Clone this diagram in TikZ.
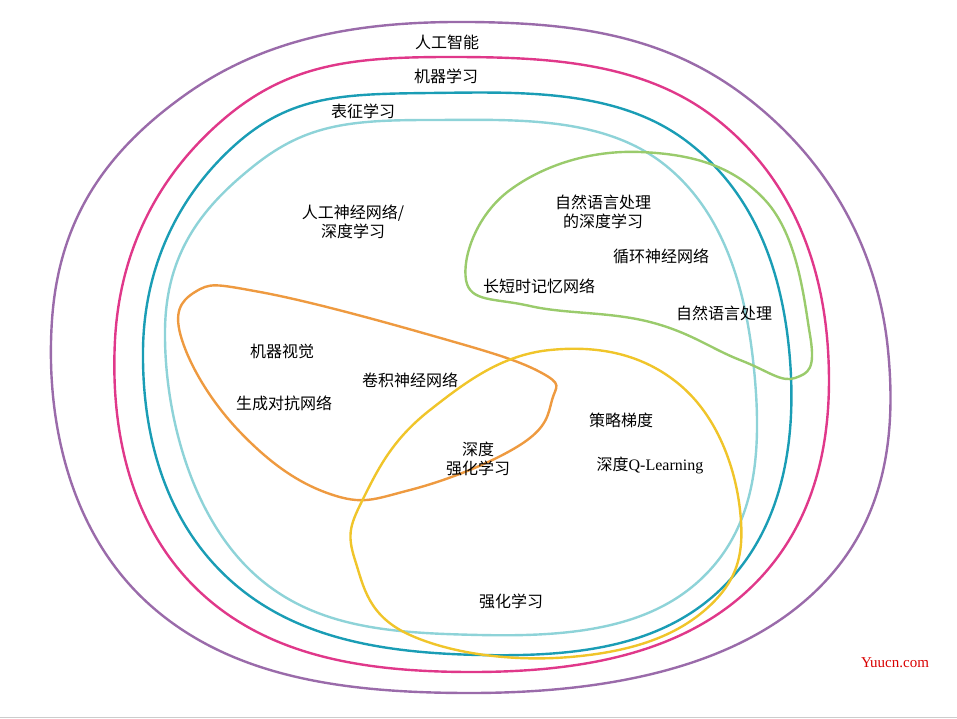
\documentclass[tikz,border=0pt]{standalone}
\usepackage{fontspec}
\setmainfont{Noto Sans CJK SC}
\setsansfont{Liberation Serif}
\usepackage{xcolor}
\definecolor{aiPurple}{HTML}{9A6BAA}
\definecolor{mlPink}{HTML}{E0388A}
\definecolor{rlTeal}{HTML}{1A9DB5}
\definecolor{annCyan}{HTML}{8ED3D8}
\definecolor{nlpGreen}{HTML}{9ACB6C}
\definecolor{cvOrange}{HTML}{EE9A40}
\definecolor{rlYellow}{HTML}{F0C52A}
\tikzset{label node/.style={font=\fontsize{16}{19}\selectfont,align=center,inner sep=1pt}}
\begin{document}
\begin{tikzpicture}[x=1pt,y=-1pt]
\useasboundingbox (0,0) rectangle (957,719);

%DRAWING regions
 \draw[aiPurple,line width=2.4pt] plot[smooth cycle,tension=0.7] coordinates {(470,22) (750,100) (888,350) (800,605) (470,693) (150,605) (52,320) (185,95)};
 \draw[mlPink,line width=2.4pt] plot[smooth cycle,tension=0.7] coordinates {(450,57) (715,118) (828,350) (745,593) (470,672) (200,592) (115,340) (225,118)};
 \draw[rlTeal,line width=2.4pt] plot[smooth cycle,tension=0.7] coordinates {(430,93) (685,140) (790,360) (720,590) (480,655) (230,580) (143,350) (235,145)};
 \draw[annCyan,line width=2.4pt] plot[smooth cycle,tension=0.7] coordinates {(430,120) (665,165) (755,380) (700,580) (480,635) (250,570) (165,330) (255,165)};
 \draw[nlpGreen,line width=2.4pt] plot[smooth cycle,tension=0.7] coordinates {(466,280) (510,190) (640,152) (765,200) (810,335) (795,378) (740,360) (650,322) (530,306)};
 \draw[cvOrange,line width=2.4pt] plot[smooth cycle,tension=0.7] coordinates {(195,292) (260,292) (430,335) (540,372) (552,400) (520,445) (410,490) (330,494) (240,432) (182,340)};
 \draw[rlYellow,line width=2.4pt] plot[smooth cycle,tension=0.7] coordinates {(365,495) (430,410) (550,350) (680,385) (740,510) (705,610) (570,657) (410,635) (355,560)};

%Inserting labels
 \node[label node] (AI) at (447,42) {人工智能};
 \node[label node] (ML) at (446,76) {机器学习};
 \node[label node] (RepL) at (363,111) {表征学习};
 \node[label node] (ANN) at (353,222) {人工神经网络/\\深度学习};
 \node[label node] (NLPDL) at (603,212) {自然语言处理\\的深度学习};
 \node[label node] (RNN) at (661,256) {循环神经网络};
 \node[label node] (LSTM) at (539,286) {长短时记忆网络};
 \node[label node] (NLP) at (724,313) {自然语言处理};
 \node[label node] (CV) at (282,351) {机器视觉};
 \node[label node] (CNN) at (410,380) {卷积神经网络};
 \node[label node] (GAN) at (284,403) {生成对抗网络};
 \node[label node] (PG) at (621,420) {策略梯度};
 \node[label node] (DRL) at (478,459) {深度\\强化学习};
 \node[label node] (DQN) at (650,465) {深度\textsf{Q-Learning}};
 \node[label node] (RL) at (511,601) {强化学习};

 \node[font=\sffamily\fontsize{15}{18}\selectfont,text=red!85!black] (Mark) at (895,663) {Yuucn.com};
 \draw[gray!40,line width=1pt] (0,717)--(957,717);
\end{tikzpicture}
\end{document}
